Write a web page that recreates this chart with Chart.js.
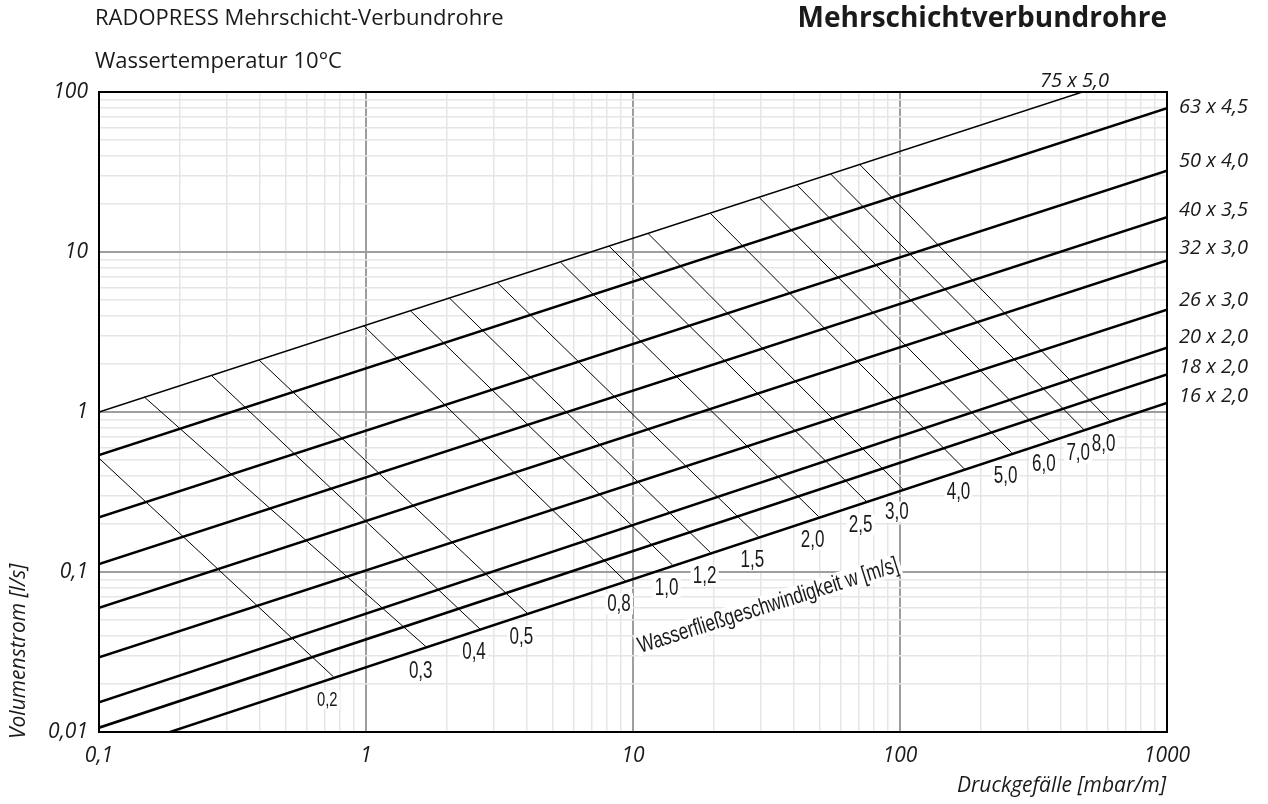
<!DOCTYPE html>
<html>
<head>
<meta charset="utf-8">
<title>Mehrschichtverbundrohre – Druckverlust</title>
<script src="https://cdn.jsdelivr.net/npm/chart.js@4/dist/chart.umd.min.js"></script>
<style>
  html, body { margin: 0; padding: 0; background: #fff; }
  #wrap { width: 1268px; height: 804px; }
</style>
</head>
<body>
<div id="wrap"><canvas id="c" width="1268" height="804"></canvas></div>
<script>
// Pipe dimensions (outer diameter x wall thickness, mm)
const pipeLabels = ['75 x 5,0', '63 x 4,5', '50 x 4,0', '40 x 3,5', '32 x 3,0', '26 x 3,0', '20 x 2,0', '18 x 2,0', '16 x 2,0'];
// Pressure drop range covered by each pipe line [mbar/m]
const pressureDrop = [0.1, 1000];
// Volume flow [l/s] at the start and end of the pressure drop range
const flowAtMinDrop = [1.0, 0.538, 0.22, 0.112, 0.0598, 0.0293, 0.01535, 0.01064, 0.00714];
const flowAtMaxDrop = [148.6, 79.1, 32.2, 16.5, 8.87, 4.36, 2.52, 1.72, 1.14];

// Lines of constant water velocity w [m/s]
const velocityLabels = ['0,2', '0,3', '0,4', '0,5', '0,8', '1,0', '1,2', '1,5', '2,0', '2,5', '3,0', '4,0', '5,0', '6,0', '7,0', '8,0'];
const velStartDrop = [0.1, 0.1474, 0.2643, 0.3976, 0.983, 1.470, 2.058, 3.103, 5.36, 8.15, 11.41, 19.54, 29.64, 41.2, 55.0, 70.8];
const velStartFlow = [0.514, 1.246, 1.686, 2.113, 3.447, 4.279, 5.135, 6.43, 8.62, 10.85, 13.01, 17.35, 21.98, 26.12, 30.73, 35.12];
const velEndDrop = [0.754, 1.688, 2.673, 4.019, 9.33, 14.06, 19.53, 29.5, 49.6, 75.0, 102.5, 174.4, 262.0, 364, 489.7, 609.5];
const velEndFlow = [0.0222, 0.0338, 0.0440, 0.0552, 0.0882, 0.1106, 0.1320, 0.1662, 0.2216, 0.275, 0.330, 0.440, 0.5566, 0.6616, 0.772, 0.882];

// Axis ranges and decade tick labels
const xRange = [0.1, 1000];
const yRange = [0.01, 100];
const xTickLabels = ['0,1', '1', '10', '100', '1000'];
const yTickLabels = ['0,01', '0,1', '1', '10', '100'];

const TEXT = '#1a1a1a';

function isDecade(v) {
  const l = Math.log10(v);
  return Math.abs(l - Math.round(l)) < 1e-6;
}

// 1..9 steps in every decade between min and max
function logTicks(min, max) {
  const out = [];
  for (let e = Math.round(Math.log10(min)); e < Math.round(Math.log10(max)); e++) {
    for (let m = 1; m <= 9; m++) out.push({ value: Number((m * Math.pow(10, e)).toPrecision(6)) });
  }
  out.push({ value: max });
  return out;
}

function decadeLabel(labels, min) {
  return function (v) {
    if (!isDecade(v)) return '';
    return labels[Math.round(Math.log10(v) - Math.log10(min))];
  };
}

const datasets = [];
pipeLabels.forEach((name, i) => {
  datasets.push({
    label: name,
    data: [
      { x: pressureDrop[0], y: flowAtMinDrop[i] },
      { x: pressureDrop[1], y: flowAtMaxDrop[i] }
    ],
    showLine: true,
    borderColor: '#000',
    borderWidth: i === 0 ? 1.5 : 2.5,
    pointRadius: 0,
    clip: 0
  });
});
velocityLabels.forEach((name, i) => {
  datasets.push({
    label: 'w = ' + name,
    data: [
      { x: velStartDrop[i], y: velStartFlow[i] },
      { x: velEndDrop[i], y: velEndFlow[i] }
    ],
    showLine: true,
    borderColor: '#000',
    borderWidth: 1,
    pointRadius: 0,
    clip: 0
  });
});

// Narrow sans text, optionally rotated, on a white patch
function drawNarrow(ctx, text, cx, cy, size, sx, angle, bg) {
  ctx.save();
  ctx.translate(cx, cy);
  ctx.rotate(angle);
  ctx.scale(sx, 1);
  ctx.font = size + 'px "Liberation Sans", Arial, sans-serif';
  ctx.textAlign = 'center';
  ctx.textBaseline = 'middle';
  const w = ctx.measureText(text).width;
  if (bg) {
    ctx.fillStyle = '#fff';
    ctx.fillRect(-w / 2 - 3, -size * 0.46, w + 6, size * 0.92);
  }
  ctx.fillStyle = TEXT;
  ctx.fillText(text, 0, 1);
  ctx.restore();
}

// Pipe name positions to the right of the plot
const PIPE_LABEL_Y = [81, 107, 161, 210, 248, 300, 337, 367, 396];

const annotations = {
  id: 'annotations',
  beforeDatasetsDraw(chart) {
    const { ctx, chartArea: a, scales: { x, y } } = chart;
    ctx.save();
    ctx.beginPath();
    ctx.rect(a.left, a.top, a.right - a.left, a.bottom - a.top);
    ctx.clip();
    velocityLabels.forEach((t, i) => {
      const px = x.getPixelForValue(velEndDrop[i]) - 6;
      const py = y.getPixelForValue(velEndFlow[i]) + 23;
      drawNarrow(ctx, t, px, py, i === 0 ? 20 : 23, 0.74, 0, true);
    });
    // caption of the velocity lines, running parallel to the pipe lines
    ctx.save();
    ctx.font = '23px "Liberation Sans", Arial, sans-serif';
    const cap = 'Wasserfließgeschwindigkeit w [m/s]';
    const sx = 272 / ctx.measureText(cap).width;
    ctx.restore();
    drawNarrow(ctx, cap, 768, 605, 23, sx, -17.5 * Math.PI / 180, true);
    ctx.restore();
  },
  afterDatasetsDraw(chart) {
    const { ctx, chartArea: a } = chart;
    ctx.save();
    // plot frame
    ctx.strokeStyle = '#000';
    ctx.lineWidth = 2;
    ctx.strokeRect(a.left, a.top, a.right - a.left, a.bottom - a.top);

    ctx.fillStyle = TEXT;
    ctx.textBaseline = 'middle';

    // headings
    ctx.textAlign = 'left';
    ctx.font = '22px "Open Sans"';
    ctx.fillText('RADOPRESS Mehrschicht-Verbundrohre', 95, 19);
    ctx.fillText('Wassertemperatur 10°C', 95, 62);
    ctx.textAlign = 'right';
    ctx.font = 'bold 28px "Open Sans"';
    ctx.fillText('Mehrschichtverbundrohre', 1167, 19);

    // pipe names
    ctx.font = 'italic 20px "Open Sans"';
    ctx.textAlign = 'left';
    pipeLabels.forEach((t, i) => {
      const px = i === 0 ? 1040 : a.right + 12;
      ctx.fillText(t, px, PIPE_LABEL_Y[i]);
    });

    // axis titles
    ctx.font = 'italic 21px "Open Sans"';
    ctx.textAlign = 'right';
    ctx.fillText('Druckgefälle [mbar/m]', 1166, 786);
    ctx.save();
    ctx.translate(19, 739);
    ctx.rotate(-Math.PI / 2);
    ctx.textAlign = 'left';
    ctx.fillText('Volumenstrom [l/s]', 0, 0);
    ctx.restore();
    ctx.restore();
  }
};

const gridOpts = {
  color: c => (c.tick && isDecade(c.tick.value)) ? '#9e9e9e' : '#e6e6e6',
  lineWidth: c => (c.tick && isDecade(c.tick.value)) ? 2 : 1.5,
  drawTicks: false
};
const tickFont = { family: 'Open Sans', style: 'italic', size: 21 };

new Chart(document.getElementById('c'), {
  type: 'scatter',
  data: { datasets },
  options: {
    responsive: false,
    animation: false,
    devicePixelRatio: 1,
    layout: { padding: { top: 92, right: 101, left: 0, bottom: 0 } },
    plugins: { legend: { display: false }, tooltip: { enabled: false } },
    elements: { line: { tension: 0, borderCapStyle: 'butt' } },
    scales: {
      x: {
        type: 'logarithmic',
        position: 'bottom',
        min: xRange[0],
        max: xRange[1],
        afterBuildTicks: s => { s.ticks = logTicks(xRange[0], xRange[1]); },
        afterFit: s => { s.height = 72; },
        ticks: {
          autoSkip: false, maxRotation: 0, minRotation: 0,
          padding: 11, color: TEXT, font: tickFont,
          callback: decadeLabel(xTickLabels, xRange[0])
        },
        grid: gridOpts,
        border: { display: false }
      },
      y: {
        type: 'logarithmic',
        position: 'left',
        min: yRange[0],
        max: yRange[1],
        afterBuildTicks: s => { s.ticks = logTicks(yRange[0], yRange[1]); },
        afterFit: s => { s.width = 99; },
        ticks: {
          autoSkip: false, padding: 11, color: TEXT, font: tickFont,
          callback: decadeLabel(yTickLabels, yRange[0])
        },
        grid: gridOpts,
        border: { display: false }
      }
    }
  },
  plugins: [annotations]
});
</script>
</body>
</html>
